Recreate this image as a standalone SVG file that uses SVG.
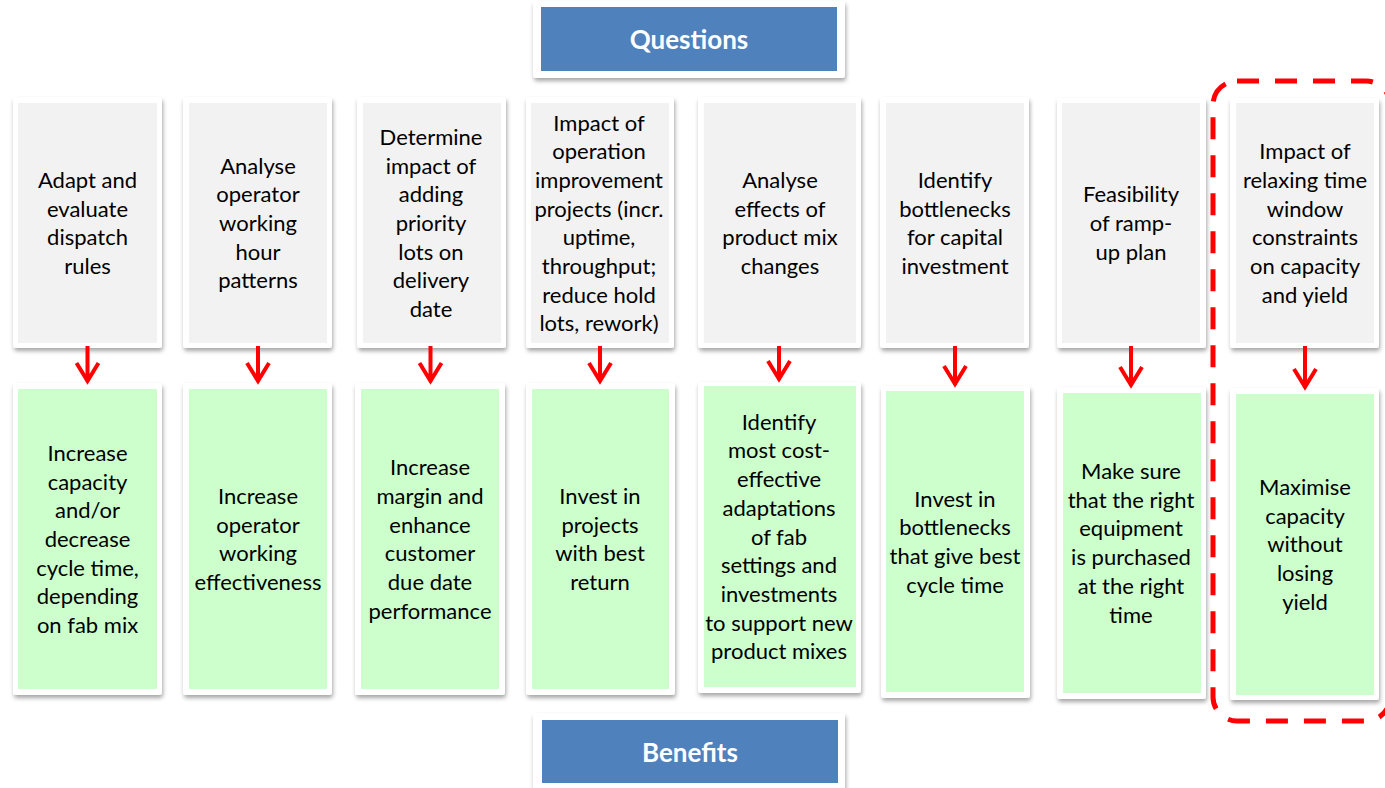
<svg xmlns="http://www.w3.org/2000/svg" width="1385" height="788" viewBox="0 0 1385 788">
<style>
.frame{fill:#ffffff;filter:url(#sh)}
.q{fill:#f2f2f2}
.b{fill:#ccffcc}
.hdr{fill:#4f81bd}
.t{font-family:Lato,"Liberation Sans",sans-serif;font-size:22px;fill:#000;text-anchor:middle}
.ht{font-family:Lato,"Liberation Sans",sans-serif;font-size:26px;font-weight:bold;fill:#fff;text-anchor:middle}
.dash{fill:none;stroke:#ff0000;stroke-width:5;stroke-dasharray:22 16}
</style>
<defs>
<filter id="sh" x="-10%" y="-10%" width="120%" height="120%">
<feDropShadow dx="1" dy="3" stdDeviation="2" flood-color="#000" flood-opacity="0.35"/>
</filter>
</defs>
<rect x="0" y="0" width="1385" height="788" fill="#ffffff"/>

<g id="questions">
<rect class="frame" x="533" y="1" width="312" height="77" rx="3"/>
<rect class="hdr" x="541" y="7" width="296" height="64"/>
<text class="ht" x="689" y="49">Questions</text>
</g>
<g id="benefits">
<rect class="frame" x="533" y="713" width="312" height="80" rx="3"/>
<rect class="hdr" x="542" y="720" width="296" height="63"/>
<text class="ht" x="690" y="762">Benefits</text>
</g>

<g id="q1">
<rect class="frame" x="13" y="97" width="149" height="251" rx="3"/>
<rect class="q" x="18" y="103" width="139" height="240"/>
<text class="t"><tspan x="87.5" y="188">Adapt and</tspan><tspan x="87.5" dy="28.7">evaluate</tspan><tspan x="87.5" dy="28.7">dispatch</tspan><tspan x="87.5" dy="28.7">rules</tspan></text>
</g>
<g id="q2">
<rect class="frame" x="183" y="97" width="149" height="251" rx="3"/>
<rect class="q" x="189" y="103" width="138" height="240"/>
<text class="t"><tspan x="258" y="173.6">Analyse</tspan><tspan x="258" dy="28.7">operator</tspan><tspan x="258" dy="28.7">working</tspan><tspan x="258" dy="28.7">hour</tspan><tspan x="258" dy="28.7">patterns</tspan></text>
</g>
<g id="q3">
<rect class="frame" x="357" y="97" width="149" height="251" rx="3"/>
<rect class="q" x="363" y="103" width="138" height="240"/>
<text class="t"><tspan x="431" y="144.9">Determine</tspan><tspan x="431" dy="28.7">impact of</tspan><tspan x="431" dy="28.7">adding</tspan><tspan x="431" dy="28.7">priority</tspan><tspan x="431" dy="28.7">lots on</tspan><tspan x="431" dy="28.7">delivery</tspan><tspan x="431" dy="28.7">date</tspan></text>
</g>
<g id="q4">
<rect class="frame" x="526" y="97" width="148" height="251" rx="3"/>
<rect class="q" x="531" y="103" width="138" height="240"/>
<text class="t"><tspan x="599" y="130.5">Impact of</tspan><tspan x="599" dy="28.7">operation</tspan><tspan x="599" dy="28.7">improvement</tspan><tspan x="599" dy="28.7">projects (incr.</tspan><tspan x="599" dy="28.7">uptime,</tspan><tspan x="599" dy="28.7">throughput;</tspan><tspan x="599" dy="28.7">reduce hold</tspan><tspan x="599" dy="28.7">lots, rework)</tspan></text>
</g>
<g id="q5">
<rect class="frame" x="698" y="97" width="163" height="251" rx="3"/>
<rect class="q" x="704" y="103" width="152" height="240"/>
<text class="t"><tspan x="780" y="188">Analyse</tspan><tspan x="780" dy="28.7">effects of</tspan><tspan x="780" dy="28.7">product mix</tspan><tspan x="780" dy="28.7">changes</tspan></text>
</g>
<g id="q6">
<rect class="frame" x="880" y="97" width="149" height="251" rx="3"/>
<rect class="q" x="886" y="103" width="138" height="240"/>
<text class="t"><tspan x="955" y="188">Identify</tspan><tspan x="955" dy="28.7">bottlenecks</tspan><tspan x="955" dy="28.7">for capital</tspan><tspan x="955" dy="28.7">investment</tspan></text>
</g>
<g id="q7">
<rect class="frame" x="1057" y="98" width="149" height="250" rx="3"/>
<rect class="q" x="1062" y="103" width="138" height="240"/>
<text class="t"><tspan x="1131" y="202.3">Feasibility</tspan><tspan x="1131" dy="28.7">of ramp-</tspan><tspan x="1131" dy="28.7">up plan</tspan></text>
</g>
<g id="q8">
<rect class="frame" x="1230" y="98" width="149" height="250" rx="3"/>
<rect class="q" x="1236" y="103" width="138" height="240"/>
<text class="t"><tspan x="1305" y="159.3">Impact of</tspan><tspan x="1305" dy="28.7">relaxing time</tspan><tspan x="1305" dy="28.7">window</tspan><tspan x="1305" dy="28.7">constraints</tspan><tspan x="1305" dy="28.7">on capacity</tspan><tspan x="1305" dy="28.7">and yield</tspan></text>
</g>

<g id="b1">
<rect class="frame" x="13" y="383" width="149" height="312" rx="3"/>
<rect class="b" x="18" y="389" width="139" height="300"/>
<text class="t"><tspan x="87.5" y="460.9">Increase</tspan><tspan x="87.5" dy="28.7">capacity</tspan><tspan x="87.5" dy="28.7">and/or</tspan><tspan x="87.5" dy="28.7">decrease</tspan><tspan x="87.5" dy="28.7">cycle time,</tspan><tspan x="87.5" dy="28.7">depending</tspan><tspan x="87.5" dy="28.7">on fab mix</tspan></text>
</g>
<g id="b2">
<rect class="frame" x="183" y="383" width="149" height="312" rx="3"/>
<rect class="b" x="189" y="389" width="138" height="300"/>
<text class="t"><tspan x="258" y="504">Increase</tspan><tspan x="258" dy="28.7">operator</tspan><tspan x="258" dy="28.7">working</tspan><tspan x="258" dy="28.7">effectiveness</tspan></text>
</g>
<g id="b3">
<rect class="frame" x="355" y="383" width="150" height="312" rx="3"/>
<rect class="b" x="361" y="389" width="138" height="300"/>
<text class="t"><tspan x="430" y="475.3">Increase</tspan><tspan x="430" dy="28.7">margin and</tspan><tspan x="430" dy="28.7">enhance</tspan><tspan x="430" dy="28.7">customer</tspan><tspan x="430" dy="28.7">due date</tspan><tspan x="430" dy="28.7">performance</tspan></text>
</g>
<g id="b4">
<rect class="frame" x="526" y="383" width="149" height="312" rx="3"/>
<rect class="b" x="532" y="389" width="137" height="300"/>
<text class="t"><tspan x="600" y="504">Invest in</tspan><tspan x="600" dy="28.7">projects</tspan><tspan x="600" dy="28.7">with best</tspan><tspan x="600" dy="28.7">return</tspan></text>
</g>
<g id="b5">
<rect class="frame" x="698" y="382" width="163" height="311" rx="3"/>
<rect class="b" x="704" y="386" width="152" height="301"/>
<text class="t"><tspan x="779" y="429.7">Identify</tspan><tspan x="779" dy="28.7">most cost-</tspan><tspan x="779" dy="28.7">effective</tspan><tspan x="779" dy="28.7">adaptations</tspan><tspan x="779" dy="28.7">of fab</tspan><tspan x="779" dy="28.7">settings and</tspan><tspan x="779" dy="28.7">investments</tspan><tspan x="779" dy="28.7">to support new</tspan><tspan x="779" dy="28.7">product mixes</tspan></text>
</g>
<g id="b6">
<rect class="frame" x="881" y="386" width="149" height="312" rx="3"/>
<rect class="b" x="886" y="391" width="138" height="301"/>
<text class="t"><tspan x="955" y="506.5">Invest in</tspan><tspan x="955" dy="28.7">bottlenecks</tspan><tspan x="955" dy="28.7">that give best</tspan><tspan x="955" dy="28.7">cycle time</tspan></text>
</g>
<g id="b7">
<rect class="frame" x="1057" y="387" width="149" height="312" rx="3"/>
<rect class="b" x="1063" y="393" width="138" height="300"/>
<text class="t"><tspan x="1131" y="479">Make sure</tspan><tspan x="1131" dy="28.7">that the right</tspan><tspan x="1131" dy="28.7">equipment</tspan><tspan x="1131" dy="28.7">is purchased</tspan><tspan x="1131" dy="28.7">at the right</tspan><tspan x="1131" dy="28.7">time</tspan></text>
</g>
<g id="b8">
<rect class="frame" x="1230" y="388" width="149" height="312" rx="3"/>
<rect class="b" x="1236" y="394" width="138" height="301"/>
<text class="t"><tspan x="1305" y="495">Maximise</tspan><tspan x="1305" dy="28.7">capacity</tspan><tspan x="1305" dy="28.7">without</tspan><tspan x="1305" dy="28.7">losing</tspan><tspan x="1305" dy="28.7">yield</tspan></text>
</g>

<g id="connectors" stroke="#ff0000" stroke-width="4" fill="none" stroke-linejoin="miter" stroke-miterlimit="10">
<path d="M87.5 346 V382 M76.5 363 L87.5 381 L98.5 363"/>
<path d="M258 346 V382 M247 363 L258 381 L269 363"/>
<path d="M430.5 346 V382 M419.5 363 L430.5 381 L441.5 363"/>
<path d="M600 346 V382 M589 363 L600 381 L611 363"/>
<path d="M779 346 V380 M768 361 L779 379 L790 361"/>
<path d="M955 346 V385 M944 366 L955 384 L966 366"/>
<path d="M1131 346 V386 M1120 367 L1131 385 L1142 367"/>
<path d="M1305 346 V388 M1294 369 L1305 387 L1316 369"/>
</g>

<g id="highlight">
<rect class="dash" x="1213" y="81" width="177" height="640" rx="24"/>
</g>
</svg>
